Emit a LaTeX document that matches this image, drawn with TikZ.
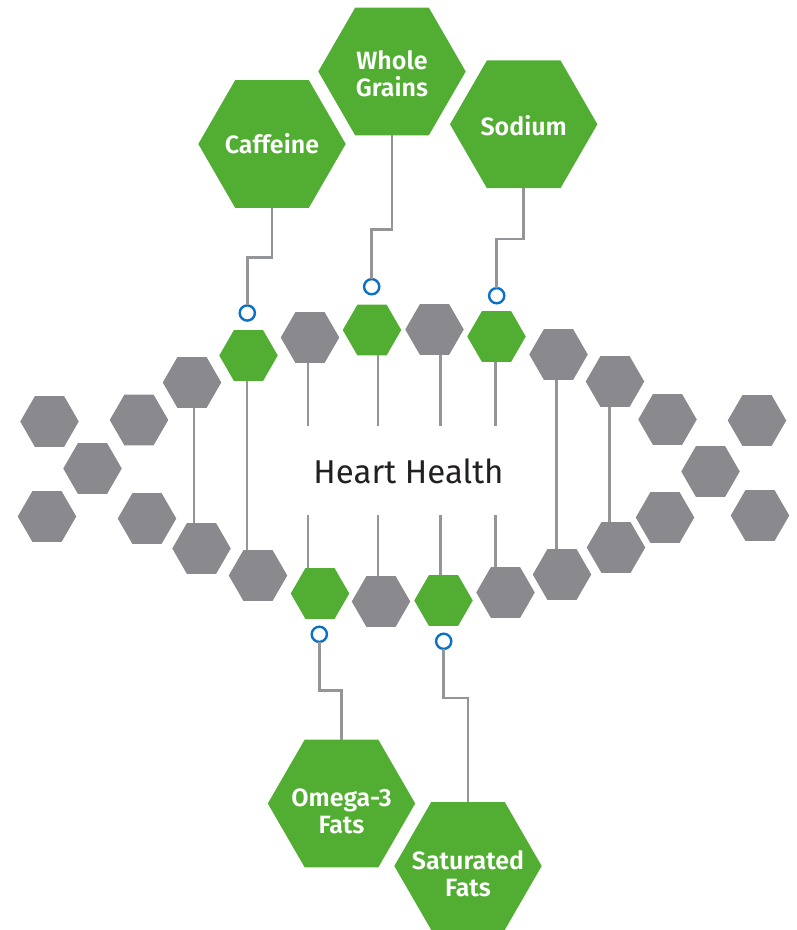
\documentclass[tikz,border=0pt]{standalone}
\usepackage{fontspec}
\setmainfont{Fira Sans}
\newfontfamily\labfont{Fira Sans}[UprightFont={* SemiBold}]
\usetikzlibrary{shapes.geometric}
\definecolor{hgreen}{HTML}{52AE32}
\definecolor{hgray}{HTML}{8A898E}
\definecolor{lgray}{HTML}{939598}
\definecolor{cblue}{HTML}{0A72C6}
\definecolor{tdark}{HTML}{231F20}
\tikzset{
  hexbase/.style={regular polygon, regular polygon sides=6, inner sep=0pt, outer sep=0pt, draw=none},
  shex/.style={hexbase, minimum size=58.5pt, fill=hgray},
  ghex/.style={hexbase, minimum size=58.5pt, fill=hgreen},
  bighex/.style={hexbase, minimum size=147.4pt, fill=hgreen},
  lab/.style={text=white, font=\labfont\fontsize{25}{27}\selectfont, align=center, inner sep=0pt},
  rung/.style={draw=lgray, line width=2.9pt},
  link/.style={draw=lgray, line width=2.7pt},
  dot/.style={circle, draw=cblue, fill=white, line width=2.4pt, minimum size=15.2pt, inner sep=0pt, outer sep=0pt}
}
\begin{document}
\begin{tikzpicture}[x=1pt, y=-1pt]
\useasboundingbox (0,0) rectangle (797,930);
% top strand
\node[shex] (T1) at (192,382.5) {};
\node[ghex] (T2) at (248.5,355.5) {};
\node[shex] (T3) at (310,337.5) {};
\node[ghex] (T4) at (372,330) {};
\node[shex] (T5) at (434.5,329.5) {};
\node[ghex] (T6) at (496.5,336.5) {};
\node[shex] (T7) at (558.5,354.5) {};
\node[shex] (T8) at (615,381.5) {};
% bottom strand
\node[shex] (B1) at (201.5,548.5) {};
\node[shex] (B2) at (258,575.5) {};
\node[ghex] (B3) at (320,593.5) {};
\node[shex] (B4) at (381,601.5) {};
\node[ghex] (B5) at (443.5,600.5) {};
\node[shex] (B6) at (505.5,592.5) {};
\node[shex] (B7) at (562,574.5) {};
\node[shex] (B8) at (616,547.5) {};
% left ends
\node[shex] (L1) at (139,420) {};
\node[shex] (L2) at (49.5,421.5) {};
\node[shex] (L3) at (92.5,468.5) {};
\node[shex] (L4) at (47,516.5) {};
\node[shex] (L5) at (147,518.5) {};
% right ends
\node[shex] (R1) at (667.5,419.5) {};
\node[shex] (R2) at (757,420.5) {};
\node[shex] (R3) at (710.5,471.5) {};
\node[shex] (R4) at (665,517.5) {};
\node[shex] (R5) at (760,515.5) {};
% rung positions
\coordinate (gt) at (0,426);
\coordinate (gb) at (0,515);
\coordinate (r1) at (194,0);
\coordinate (r2) at (247,0);
\coordinate (r3) at (308,0);
\coordinate (r4) at (378,0);
\coordinate (r5) at (440.7,0);
\coordinate (r6) at (495.7,0);
\coordinate (r7) at (556.7,0);
\coordinate (r8) at (609.7,0);
\draw[rung] (r1 |- T1.south) -- (r1 |- B1.north);
\draw[rung] (r2 |- T2.south) -- (r2 |- B2.north);
\draw[rung] (r3 |- T3.south) -- (r3 |- gt);
\draw[rung] (r3 |- gb) -- (r3 |- B3.north);
\draw[rung] (r4 |- T4.south) -- (r4 |- gt);
\draw[rung] (r4 |- gb) -- (r4 |- B4.north);
\draw[rung] (r5 |- T5.south) -- (r5 |- gt);
\draw[rung] (r5 |- gb) -- (r5 |- B5.north);
\draw[rung] (r6 |- T6.south) -- (r6 |- gt);
\draw[rung] (r6 |- gb) -- (r6 |- B6.north);
\draw[rung] (r7 |- T7.south) -- (r7 |- B7.north);
\draw[rung] (r8 |- T8.south) -- (r8 |- B8.north);
% centre title
\node[text=tdark, font=\fontsize{33}{36}\selectfont, inner sep=0pt] (title) at (408.5,471) {Heart Health};
% big hexagons
\node[bighex] (caf) at (272,144) {};
\node[bighex] (wg) at (392,71.5) {};
\node[bighex] (so) at (523.7,124.3) {};
\node[bighex] (om) at (341.5,803.5) {};
\node[bighex] (sf) at (468,866) {};
\node[lab] (caft) at (272,144) {Caffeine};
\node[lab] (wgt) at (392,74) {Whole\\Grains};
\node[lab] (sot) at (523.7,125.5) {Sodium};
\node[lab] (omt) at (341.5,811) {Omega-3\\Fats};
\node[lab] (sft) at (468,874) {Saturated\\Fats};
% blue dots
\node[dot] (c1) at (247.3,313) {};
\node[dot] (c2) at (371.7,286.7) {};
\node[dot] (c3) at (496.7,295.7) {};
\node[dot] (c4) at (319.3,634.3) {};
\node[dot] (c5) at (443.7,641.3) {};
% links
\draw[link] (caf.south) -- ++(0,49.7) -| (c1.north);
\draw[link] (wg.south) -- ++(0,94.3) -| (c2.north);
\draw[link] (so.south) -- ++(0,50.9) -| (c3.north);
\draw[link] (c4.south) -- ++(0,48.4) -| (om.north);
\draw[link] (c5.south) -- ++(0,49) -| (sf.north);
\end{tikzpicture}
\end{document}
